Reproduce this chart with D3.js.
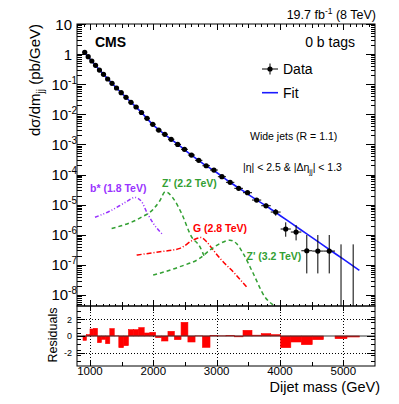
<!DOCTYPE html>
<html>
<head>
<meta charset="utf-8">
<script src="https://cdn.jsdelivr.net/npm/d3@7"></script>
<style>
	body { margin: 0; background: #fff; }
	svg { font-family: 'Liberation Sans', Arial, sans-serif; }
</style>
</head>
<body>
<div id="canvas"></div>
<script>
// dijet mass bins (GeV)
const binEdges = [890, 944, 1000, 1058, 1118, 1181, 1246, 1313, 1383, 1455, 1530, 1607, 1687, 1770, 1856, 1945, 2037, 2132, 2231, 2332, 2438, 2546, 2659, 2775, 2895, 3019, 3147, 3279, 3416, 3558, 3704, 3854, 4010, 4171, 4337, 4509, 4686, 4869, 5058, 5253];
// measured cross section per bin (pb/GeV), 0 = empty bin
const dataValues = [1.15, 0.82, 0.59, 0.425, 0.296, 0.213, 0.149, 0.107, 0.0748, 0.0522, 0.0367, 0.0251, 0.0175, 0.01148, 0.00736, 0.00466, 0.0030, 0.00217, 0.00148, 0.0010, 6.87e-4, 4.44e-4, 2.96e-4, 1.96e-4, 1.41e-4, 8.47e-5, 5.51e-5, 3.48e-5, 2.49e-5, 1.42e-5, 9.2e-6, 5.67e-6, 1.55e-6, 1.23e-6, 2.94e-7, 2.87e-7, 2.87e-7, 0, 0];
// visible error bar ends (null = hidden by the marker)
const errHigh = [null, null, null, null, null, null, null, null, null, null, null, null, null, null, null, null, null, null, null, null, null, null, null, null, null, null, null, null, null, null, 1.1e-5, 7.1e-6, 2.58e-6, 2.1e-6, 9.8e-7, 9.8e-7, 9.8e-7, 4.8e-7, 4.8e-7];
const errLow = [null, null, null, null, null, null, null, null, null, null, null, null, null, null, null, null, null, null, null, null, null, null, null, null, null, null, null, null, null, null, 7.5e-6, 4.3e-6, 8.6e-7, 6.5e-7, 5.2e-8, 5.2e-8, 5.2e-8, 0, 0];
// (data - fit) / sigma per bin
const residuals = [-0.52, 0.16, 0.84, 0.92, -0.8, -0.4, -0.92, 0.88, 0.02, -1.4, -1.16, 0.76, 0.76, 1.0, 0.36, 0.44, -0.2, -0.6, 0.56, -0.44, 1.64, -0.72, 0.02, -1.36, 0.04, 0.02, 0.05, -0.1, 0.68, 0.1, 0.28, 0.16, -1.4, -0.72, -1.04, -0.44, 0, -0.32, -0.12];

// fit curve
const fitMass = [890, 1000, 1200, 1400, 1600, 1800, 2000, 2200, 2400, 2600, 2800, 3000, 3200, 3400, 3600, 3800, 4000, 4200, 4400, 4600, 4800, 5000, 5253];
const fitValues = [1.30, 0.69, 0.229, 0.0822, 0.0316, 0.0123, 4.37e-3, 2.0e-3, 9.5e-4, 4.47e-4, 2.19e-4, 1.17e-4, 5.75e-5, 3.02e-5, 1.58e-5, 8.5e-6, 4.37e-6, 2.24e-6, 1.15e-6, 5.9e-7, 3.0e-7, 1.55e-7, 6.6e-8];

// signal shapes
const bstarMass = [1079, 1300, 1579, 1710, 1815, 1894, 1999, 2156];
const bstarXsec = [3.8e-6, 5.9e-6, 1.26e-5, 1.74e-5, 1.26e-5, 5.75e-6, 2.4e-6, 9.8e-7];
const zp22Mass = [1342, 1800, 2000, 2100, 2190, 2314, 2446, 2604, 2735, 2814];
const zp22Xsec = [1.62e-6, 3.7e-6, 7.1e-6, 1.32e-5, 2.69e-5, 1.62e-5, 5.1e-6, 8.5e-7, 4.0e-7, 1.7e-7];
const gMass = [1737, 2104, 2420, 2629, 2751, 2841, 2945, 3077, 3260, 3472];
const gXsec = [2.12e-7, 2.72e-7, 3.53e-7, 6.67e-7, 8.07e-7, 5.85e-7, 3.1e-7, 1.44e-7, 5.9e-8, 1.87e-8];
const zp32Mass = [1998, 2419, 2735, 2893, 3050, 3208, 3314, 3418, 3576, 3760, 3891];
const zp32Xsec = [4.57e-8, 8.7e-8, 1.66e-7, 3.1e-7, 5.1e-7, 6.6e-7, 5.1e-7, 2.4e-7, 5.25e-8, 8.7e-9, 4.7e-9];

const signalLabels = ['b* (1.8 TeV)', "Z' (2.2 TeV)", 'G (2.8 TeV)', "Z' (3.2 TeV)"];
const massTicks = [1000, 2000, 3000, 4000, 5000];
const yTickPowers = [1, 0, -1, -2, -3, -4, -5, -6, -7, -8];
const residualTicks = [-2, 0, 2];

const W = 399, H = 404;
const frame = { left: 77, right: 375, top: 24, mid: 306, bottom: 366 };

const x = d3.scaleLinear().domain([795, 5500]).range([frame.left, frame.right]);
const y = d3.scaleLog().domain([4.3e-9, 10]).range([frame.mid, frame.top]);
const yRes = d3.scaleLinear().domain([-3.6, 3.6]).range([frame.bottom, frame.mid]);

const svg = d3.select('#canvas').append('svg').attr('width', W).attr('height', H);

svg.append('defs').append('clipPath').attr('id', 'mainClip')
	.append('rect')
	.attr('x', frame.left).attr('y', frame.top)
	.attr('width', frame.right - frame.left).attr('height', frame.mid - frame.top);

// tick helper: draws inward ticks only
const drawTicks = (axis, tx, ty) => {
	const g = svg.append('g').attr('transform', `translate(${tx},${ty})`).call(axis);
	g.select('.domain').remove();
	g.selectAll('text').remove();
	g.selectAll('line').attr('stroke', '#000').attr('shape-rendering', 'crispEdges');
	return g;
};

// ---- main panel ticks
const yMajor = yTickPowers.map(p => Math.pow(10, p));
const yMinor = [];
d3.range(-9, 1).forEach(p => {
	d3.range(2, 10).forEach(k => {
		const v = k * Math.pow(10, p);
		if (v > y.domain()[0] && v < y.domain()[1]) yMinor.push(v);
	});
});
const xMinor = d3.range(800, 5500, 100).filter(v => v % 500 !== 0);
const xMid = d3.range(1500, 5500, 1000);

[[d3.axisRight, frame.left], [d3.axisLeft, frame.right]].forEach(([ax, tx]) => {
	drawTicks(ax(y).tickValues(yMajor).tickSize(9), tx, 0);
	drawTicks(ax(y).tickValues(yMinor).tickSize(4.5), tx, 0);
});
[[d3.axisBottom, frame.top], [d3.axisTop, frame.mid]].forEach(([ax, ty]) => {
	drawTicks(ax(x).tickValues(massTicks).tickSize(6), 0, ty);
	drawTicks(ax(x).tickValues(xMid).tickSize(4), 0, ty);
	drawTicks(ax(x).tickValues(xMinor).tickSize(2.5), 0, ty);
});

// y tick labels with exponents
const yLabels = svg.append('g').attr('font-size', 15).attr('fill', '#000');
yTickPowers.forEach(p => {
	const t = yLabels.append('text')
		.attr('y', y(Math.pow(10, p)) + 5.5)
		.attr('text-anchor', 'end');
	if (p === 1 || p === 0) {
		t.attr('x', 72).text(p === 1 ? '10' : '1');
	} else {
		t.attr('x', 77);
		t.append('tspan').text('10');
		t.append('tspan').attr('dy', -6).attr('font-size', 10).text(p);
	}
});

// ---- signal curves
const sigLine = d3.line()
	.x(d => x(d[0]))
	.y(d => y(d[1]))
	.curve(d3.curveMonotoneX);

const signals = [
	{ mass: bstarMass, xsec: bstarXsec, color: '#9933ff', dash: '4 2 1 2 1 2' },
	{ mass: zp22Mass, xsec: zp22Xsec, color: '#33a033', dash: '4 3' },
	{ mass: gMass, xsec: gXsec, color: '#ff0000', dash: '5 2 1 2' },
	{ mass: zp32Mass, xsec: zp32Xsec, color: '#33a033', dash: '4 3' },
];
const sigG = svg.append('g').attr('clip-path', 'url(#mainClip)');
signals.forEach(s => {
	sigG.append('path')
		.attr('d', sigLine(s.mass.map((m, i) => [m, s.xsec[i]])))
		.attr('fill', 'none')
		.attr('stroke', s.color)
		.attr('stroke-width', 1.5)
		.attr('stroke-dasharray', s.dash);
});

const sigLabelPos = [[90, 191.5], [162, 187], [193, 231.5], [246.5, 260]];
svg.append('g')
	.attr('font-size', 10.5)
	.attr('font-weight', 'bold')
	.selectAll('text')
	.data(signalLabels)
	.join('text')
	.attr('x', (d, i) => sigLabelPos[i][0])
	.attr('y', (d, i) => sigLabelPos[i][1])
	.attr('fill', (d, i) => signals[i].color)
	.text(d => d);

// ---- fit
svg.append('path')
	.attr('clip-path', 'url(#mainClip)')
	.attr('d', sigLine(fitMass.map((m, i) => [m, fitValues[i]])))
	.attr('fill', 'none')
	.attr('stroke', '#1a1aff')
	.attr('stroke-width', 1.6);

// ---- data points
const bins = dataValues.map((v, i) => ({
	lo: binEdges[i],
	hi: binEdges[i + 1],
	mid: (binEdges[i] + binEdges[i + 1]) / 2,
	v,
	res: residuals[i],
	up: errHigh[i],
	down: errLow[i],
}));
const dataG = svg.append('g').attr('clip-path', 'url(#mainClip)');
bins.forEach(b => {
	if (b.up !== null) {
		dataG.append('line')
			.attr('x1', x(b.mid)).attr('x2', x(b.mid))
			.attr('y1', y(b.up))
			.attr('y2', b.down > 0 ? y(b.down) : frame.mid)
			.attr('stroke', '#000').attr('stroke-width', 1);
	}
	if (b.v > 0) {
		dataG.append('line')
			.attr('x1', x(b.lo)).attr('x2', x(b.hi))
			.attr('y1', y(b.v)).attr('y2', y(b.v))
			.attr('stroke', '#000').attr('stroke-width', 1);
	}
});
dataG.selectAll('circle')
	.data(bins.filter(b => b.v > 0))
	.join('circle')
	.attr('cx', d => x(d.mid))
	.attr('cy', d => y(d.v))
	.attr('r', 2.6)
	.attr('fill', '#000');

// ---- main frame
svg.append('rect')
	.attr('x', frame.left).attr('y', frame.top)
	.attr('width', frame.right - frame.left).attr('height', frame.mid - frame.top)
	.attr('fill', 'none').attr('stroke', '#000').attr('stroke-width', 1);

// ---- texts
svg.append('text').attr('x', 376).attr('y', 19).attr('text-anchor', 'end').attr('font-size', 12.5)
	.call(t => {
		t.append('tspan').text('19.7 fb');
		t.append('tspan').attr('dy', -5).attr('font-size', 8.5).text('-1');
		t.append('tspan').attr('dy', 5).text(' (8 TeV)');
	});
svg.append('text').attr('x', 95).attr('y', 47).attr('font-size', 14).attr('font-weight', 'bold').text('CMS');
svg.append('text').attr('x', 355).attr('y', 47).attr('text-anchor', 'end').attr('font-size', 14).text('0 b tags');

// legend
svg.append('line').attr('x1', 262).attr('x2', 278).attr('y1', 69).attr('y2', 69).attr('stroke', '#000');
svg.append('line').attr('x1', 270).attr('x2', 270).attr('y1', 63.5).attr('y2', 74.5).attr('stroke', '#000');
svg.append('circle').attr('cx', 270).attr('cy', 69).attr('r', 2.6).attr('fill', '#000');
svg.append('text').attr('x', 283).attr('y', 74).attr('font-size', 14).text('Data');
svg.append('line').attr('x1', 262).attr('x2', 278).attr('y1', 92.7).attr('y2', 92.7).attr('stroke', '#1a1aff').attr('stroke-width', 1.6);
svg.append('text').attr('x', 283).attr('y', 97.5).attr('font-size', 14).text('Fit');

svg.append('text').attr('x', 250).attr('y', 140).attr('font-size', 10.5).text('Wide jets (R = 1.1)');
svg.append('text').attr('x', 243).attr('y', 171).attr('font-size', 10.5).attr('fill', '#000')
	.call(t => {
		t.append('tspan').text('|η| < 2.5 & |Δη');
		t.append('tspan').attr('dy', 3).attr('font-size', 7.5).text('jj');
		t.append('tspan').attr('dy', -3).text('| < 1.3');
	});

// y title
svg.append('text')
	.attr('transform', `translate(40,24) rotate(-90)`)
	.attr('text-anchor', 'end')
	.attr('font-size', 15)
	.call(t => {
		t.append('tspan').text('dσ/dm');
		t.append('tspan').attr('dy', 3.5).attr('font-size', 10).text('jj');
		t.append('tspan').attr('dy', -3.5).text(' (pb/GeV)');
	});

// ---- residual panel
const resG = svg.append('g');
const resGrid = resG.append('g')
	.attr('stroke', '#000').attr('stroke-width', 1).attr('stroke-dasharray', '1 2');
[-2, 2].forEach(v => {
	resGrid.append('line').attr('x1', frame.left).attr('x2', frame.right)
		.attr('y1', Math.round(yRes(v)) + 0.5).attr('y2', Math.round(yRes(v)) + 0.5);
});
massTicks.forEach(m => {
	resGrid.append('line').attr('x1', Math.round(x(m)) + 0.5).attr('x2', Math.round(x(m)) + 0.5)
		.attr('y1', frame.mid).attr('y2', frame.bottom);
});

resG.selectAll('rect.bar')
	.data(bins)
	.join('rect')
	.attr('class', 'bar')
	.attr('x', d => x(d.lo))
	.attr('width', d => x(d.hi) - x(d.lo))
	.attr('y', d => yRes(Math.max(0, d.res)))
	.attr('height', d => Math.abs(yRes(0) - yRes(d.res)))
	.attr('fill', '#ff0000')
	.attr('stroke', '#ff0000')
	.attr('stroke-width', 0.6);

resG.append('line')
	.attr('x1', frame.left).attr('x2', frame.right)
	.attr('y1', yRes(0)).attr('y2', yRes(0))
	.attr('stroke', '#333').attr('stroke-width', 1);

const resMinor = d3.range(-3, 3.5, 2 / 3).filter(v => Math.abs(v % 2) > 0.01 && Math.abs(Math.abs(v % 2) - 2) > 0.01);
[[d3.axisRight, frame.left], [d3.axisLeft, frame.right]].forEach(([ax, tx]) => {
	drawTicks(ax(yRes).tickValues(residualTicks).tickSize(8), tx, 0);
	drawTicks(ax(yRes).tickValues(resMinor).tickSize(4), tx, 0);
});
[[d3.axisBottom, frame.mid], [d3.axisTop, frame.bottom]].forEach(([ax, ty]) => {
	drawTicks(ax(x).tickValues(massTicks).tickSize(5), 0, ty);
	drawTicks(ax(x).tickValues(xMid).tickSize(4), 0, ty);
});

resG.append('rect')
	.attr('x', frame.left).attr('y', frame.mid)
	.attr('width', frame.right - frame.left).attr('height', frame.bottom - frame.mid)
	.attr('fill', 'none').attr('stroke', '#000').attr('stroke-width', 1);

svg.append('g').attr('font-size', 9).attr('text-anchor', 'end')
	.selectAll('text')
	.data(residualTicks)
	.join('text')
	.attr('x', 72)
	.attr('y', d => yRes(d) + 3.2)
	.text(d => d);

svg.append('text')
	.attr('transform', `translate(57,335) rotate(-90)`)
	.attr('text-anchor', 'middle')
	.attr('font-size', 12.5)
	.text('Residuals');

svg.append('g').attr('font-size', 11.5).attr('text-anchor', 'middle')
	.selectAll('text')
	.data(massTicks)
	.join('text')
	.attr('x', d => x(d))
	.attr('y', 374.5)
	.text(d => d);

svg.append('text').attr('x', 380).attr('y', 391.5).attr('text-anchor', 'end').attr('font-size', 14.5).text('Dijet mass (GeV)');
</script>
</body>
</html>
